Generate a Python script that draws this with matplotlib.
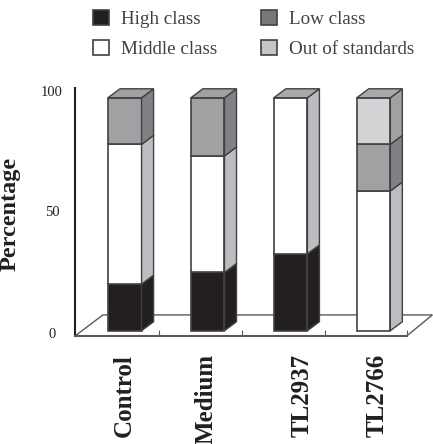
import matplotlib
matplotlib.use('Agg')
import matplotlib.pyplot as plt
from matplotlib.patches import Patch

categories = ['Control', 'Medium', 'TL2937', 'TL2766']
high = [20, 25, 33, 0]
middle = [60, 50, 67, 60]
low = [20, 25, 0, 20]
out = [0, 0, 0, 20]

names = ['High class', 'Middle class', 'Low class', 'Out of standards']
front_cols = ['#231f20', '#ffffff', '#a0a1a3', '#d1d3d4']
side_cols = ['#231f20', '#bcbdc0', '#808184', '#a0a1a3']
top_cols = ['#231f20', '#a7a9ac', '#a0a1a3', '#a7a9ac']
legend_cols = ['#231f20', '#ffffff', '#77787b', '#c4c5c7']
edge = '#414042'

W, H = 433, 444
plt.rcParams['font.family'] = ['Liberation Serif', 'DejaVu Serif']

fig = plt.figure(figsize=(W / 100, H / 100), dpi=100)
ax = fig.add_axes([75 / W, (H - 336) / H, (406.7 - 75) / W, (336 - 88) / H])
ax.set_xlim(-0.6, 3.4)
ax.set_ylim(-2.27, 104.2)

# floor of the 3d box
dx, dy = 0.145, 3.86
ax.fill([-0.6, -0.263, 3.71, 3.4], [-2.27, 6.78, 6.78, -2.27], facecolor='white',
        edgecolor='#58595b', lw=1.0, clip_on=False, zorder=1)

width = 0.405
series = [high, middle, low, out]
for i in range(len(categories)):
    x0 = i - width / 2
    x1 = i + width / 2
    bottom = 0
    last = 0
    for s in range(4):
        v = series[s][i]
        if v == 0:
            continue
        ax.bar(i, v, width, bottom=bottom, facecolor=front_cols[s], edgecolor=edge,
               lw=1.2, zorder=3)
        # side face
        ax.fill([x1, x1 + dx, x1 + dx, x1],
                [bottom, bottom + dy, bottom + v + dy, bottom + v],
                facecolor=side_cols[s], edgecolor=edge, lw=1.0, zorder=3, clip_on=False)
        bottom += v
        last = s
    # top face
    ax.fill([x0, x0 + dx, x1 + dx, x1], [bottom, bottom + dy, bottom + dy, bottom],
            facecolor=top_cols[last], edgecolor=edge, lw=1.0, zorder=3, clip_on=False)

for sp in ['top', 'right']:
    ax.spines[sp].set_visible(False)
ax.spines['left'].set_color('#231f20')
ax.spines['left'].set_linewidth(1.5)
ax.spines['bottom'].set_color('#58595b')
ax.spines['bottom'].set_linewidth(1.5)

# labels are not quite under their bars in the original
ax.set_xticks([-0.01, 0.98, 2.14, 3.04])
ax.set_xticklabels(categories, rotation=90, fontsize=18, fontweight='bold', color='#231f20')
ax.set_xticks([0.41, 1.41, 2.41, 3.4], minor=True)
ax.tick_params(axis='x', which='major', length=0, pad=13)
ax.tick_params(axis='x', which='minor', length=4, direction='in', color='#58595b', width=0.8)

ax.set_yticks([-1, 51.4, 102.9])
ax.set_yticklabels(['0', '50', '100'], fontsize=10.5, color='#231f20')
ax.tick_params(axis='y', length=0, pad=16.5)
for t in ax.get_yticklabels():
    t.set_ha('center')

fig.text(10 / W, 1 - 214 / H, 'Percentage', rotation=90, ha='center', va='center',
         fontsize=17.5, fontweight='bold', color='#231f20')

handles = [Patch(facecolor=c, edgecolor=edge, lw=1.2, label=n) for c, n in zip(legend_cols, names)]
fig.legend(handles=handles, ncol=2, frameon=False, loc='upper left',
           bbox_to_anchor=(93 / W, 1 - 10 / H), borderaxespad=0, borderpad=0,
           fontsize=13.7, handlelength=0.85, handleheight=0.85, handletextpad=0.62,
           columnspacing=2.3, labelspacing=0.6, labelcolor='#414042')

fig.savefig('out.png', dpi=100)
